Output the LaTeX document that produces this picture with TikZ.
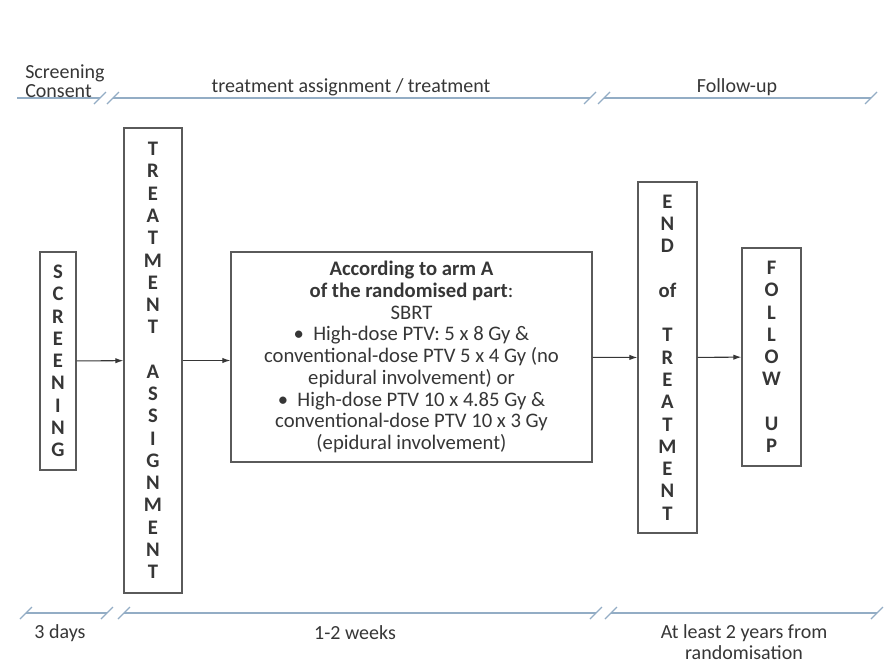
\documentclass[tikz,border=0pt]{standalone}
\usepackage{fontspec}
\setmainfont{Carlito}
\usepackage{xcolor}
\usetikzlibrary{arrows.meta, positioning}
\definecolor{txtgray}{HTML}{363636}
\definecolor{boxgray}{HTML}{5A5A5A}
\definecolor{tline}{HTML}{93ADC5}
\tikzset{
    lbl/.style={text=txtgray, font=\fontsize{15}{14.5}\selectfont, inner sep=0pt},
    stagebox/.style={draw=boxgray, line width=0.9pt, text=txtgray, align=center,
        font=\bfseries\fontsize{15.5}{16.7}\selectfont, inner sep=0pt},
    flow/.style={draw=txtgray, line width=0.8pt, -{Latex[length=6pt,width=4pt]}},
    tl/.style={draw=tline, line width=0.9pt},
}
% break mark on the time line
\newcommand{\brk}[2]{\draw[tl] (#1-6,#2+6)--(#1+6,#2-6);}
\begin{document}
\begin{tikzpicture}[x=0.75pt,y=-0.75pt]
    \useasboundingbox (0,0) rectangle (892,665);

    % time line, top
    \draw[tl](17,98)--(100,98);
    \draw[tl](113,98)--(590,98);
    \draw[tl](604,98)--(871,98);
    \brk{100}{98}\brk{113}{98}
    \brk{590}{98}\brk{604}{98}
    \brk{871}{98}

    \node[lbl, align=left, anchor=west] (scrlbl) at (25,81) {Screening\\Consent};
    \node[lbl] (trtlbl) at (351,87) {treatment assignment / treatment};
    \node[lbl] (fuplbl) at (737,87) {Follow-up};

    % time line, bottom
    \draw[tl](26,613)--(107,613);
    \draw[tl](124,613)--(596,613);
    \draw[tl](611,613)--(877,613);
    \brk{26}{613}
    \brk{107}{613}\brk{124}{613}
    \brk{596}{613}\brk{611}{613}
    \brk{877}{613}

    \node[lbl] (dayslbl) at (60,633) {3 days};
    \node[lbl] (wkslbl) at (355,633) {1-2 weeks};
    \node[lbl, align=center, font=\fontsize{15}{15.5}\selectfont] (yrslbl) at (744,642) {At least 2 years from\\randomisation};

    % stages
    \node[stagebox, minimum width=36*0.75pt, minimum height=218*0.75pt] (scr) at (58,361)
        {S\\C\\R\\E\\E\\N\\I\\N\\G};
    \node[stagebox, minimum width=58*0.75pt, minimum height=465*0.75pt] (ta) at (153,360.5)
        {T\\R\\E\\A\\T\\M\\E\\N\\T\\~\\A\\S\\S\\I\\G\\N\\M\\E\\N\\T};
    \node[stagebox, font=\fontsize{15.5}{16.3}\selectfont, minimum width=361*0.75pt, minimum height=210*0.75pt] (arm) at (411.5,357)
        {\textbf{According to arm A}\\\textbf{of the randomised part}:\\SBRT\\
         \textbullet\ \ High-dose PTV: 5 x 8 Gy \&\\conventional-dose PTV 5 x 4 Gy (no\\epidural involvement) or\\
         \textbullet\ \ High-dose PTV 10 x 4.85 Gy \&\\conventional-dose PTV 10 x 3 Gy\\(epidural involvement)};
    \node[stagebox, minimum width=59*0.75pt, minimum height=351*0.75pt] (eot) at (667.5,357.5)
        {E\\N\\D\\~\\of\\~\\T\\R\\E\\A\\T\\M\\E\\N\\T};
    \node[stagebox, minimum width=59*0.75pt, minimum height=218*0.75pt] (fup) at (771.5,357)
        {F\\O\\L\\L\\O\\W\\~\\U\\P};

    \draw[flow](scr)--(ta);
    \draw[flow](ta.east)--(ta.east -| arm.west);
    \draw[flow](arm)--(eot);
    \draw[flow](eot)--(fup);
\end{tikzpicture}
\end{document}
